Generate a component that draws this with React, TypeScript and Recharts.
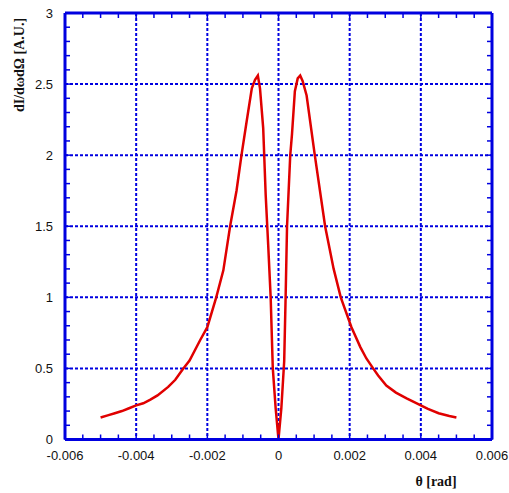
import { LineChart, Line, XAxis, YAxis, CartesianGrid } from 'recharts';

// angle θ [rad] and intensity dI/dωdΩ
const theta = [
  -0.005, -0.0048, -0.0046, -0.0044, -0.0042, -0.004, -0.0038, -0.0036, -0.0034, -0.0031,
  -0.0029, -0.0027, -0.0025, -0.0022, -0.002, -0.00175, -0.00155, -0.00136, -0.00118,
  -0.00104, -0.0009, -0.00075, -0.00066, -0.00058, -0.00052, -0.00043, -0.00036, -0.00029,
  -0.00022, -0.00016, -0.00008, 0,
  0.00008, 0.00016, 0.0002, 0.00024, 0.00033, 0.00038, 0.00046, 0.00054, 0.00061, 0.00068,
  0.00079, 0.00102, 0.00131, 0.00155, 0.00175, 0.00205, 0.0023, 0.00247, 0.00266, 0.0028,
  0.00303, 0.0033, 0.0036, 0.0038, 0.004, 0.0042, 0.0045, 0.0048, 0.005,
];
const intensity = [
  0.155, 0.17, 0.185, 0.2, 0.22, 0.24, 0.255, 0.28, 0.31, 0.37,
  0.42, 0.49, 0.555, 0.7, 0.79, 1.0, 1.19, 1.5, 1.75,
  2.0, 2.23, 2.47, 2.53, 2.56, 2.47, 2.19, 1.72, 1.37,
  1.0, 0.5, 0.22, 0,
  0.22, 0.55, 1.0, 1.5, 2.0, 2.15, 2.45, 2.54, 2.56, 2.52,
  2.42, 2.0, 1.5, 1.2, 1.0, 0.79, 0.65, 0.57, 0.5, 0.45,
  0.38, 0.33, 0.29, 0.265, 0.24, 0.215, 0.185, 0.165, 0.155,
];

const xTicks = [-0.006, -0.004, -0.002, 0, 0.002, 0.004, 0.006];
const yTicks = [0, 0.5, 1, 1.5, 2, 2.5, 3];
const xMinor = Array.from({ length: 25 }, (_, i) => Math.round((-0.006 + i * 0.0005) * 1e5) / 1e5);
const yMinor = Array.from({ length: 31 }, (_, i) => Math.round(i * 0.1 * 10) / 10);

const BLUE = '#0000e0';
const RED = '#e00000';
const tickFont = { fontFamily: '"Liberation Sans", Arial, sans-serif', fontSize: 13, fill: '#111' };
const labelFont = { fontFamily: '"Liberation Serif", "Times New Roman", serif', fontWeight: 'bold' as const, fontSize: 14, fill: '#111' };

const data = theta.map((t, i) => ({ theta: t, value: intensity[i] }));

export default function App() {
  return (
    <div style={{ position: 'absolute', left: 0, top: 0, width: 509, height: 493 }}>
      <LineChart width={509} height={493} data={data} margin={{ top: 13, right: 17, bottom: 0, left: 8 }}>
        <CartesianGrid stroke={BLUE} strokeWidth={2} strokeDasharray="3 2" />
        <XAxis
          dataKey="theta"
          type="number"
          domain={[-0.006, 0.006]}
          ticks={xTicks}
          interval={0}
          allowDataOverflow
          height={53.5}
          tickLine={false}
          tickMargin={5}
          tick={tickFont}
          axisLine={{ stroke: BLUE, strokeWidth: 3 }}
          label={{
            content: () => (
              <text x={436} y={486} textAnchor="middle" {...labelFont}>θ [rad]</text>
            ),
          }}
        />
        <YAxis
          type="number"
          domain={[0, 3]}
          ticks={yTicks}
          interval={0}
          allowDataOverflow
          width={57}
          tickLine={false}
          tickMargin={6}
          tick={tickFont}
          axisLine={{ stroke: BLUE, strokeWidth: 3 }}
          label={{
            content: () => (
              <text x={24} y={65} textAnchor="middle" transform="rotate(-90 24 65)" {...labelFont}>
                dI/dωdΩ [A.U.]
              </text>
            ),
          }}
        />
        {/* minor ticks on all four sides, pointing inward */}
        <XAxis xAxisId="mb" dataKey="theta" type="number" domain={[-0.006, 0.006]} allowDataOverflow
          ticks={xMinor} interval={0} height={1} mirror axisLine={false} tickSize={5}
          tickLine={{ stroke: BLUE, strokeWidth: 1.5 }} tickFormatter={() => ''} />
        <XAxis xAxisId="mt" orientation="top" dataKey="theta" type="number" domain={[-0.006, 0.006]} allowDataOverflow
          ticks={xMinor} interval={0} height={1} mirror axisLine={{ stroke: BLUE, strokeWidth: 3 }} tickSize={5}
          tickLine={{ stroke: BLUE, strokeWidth: 1.5 }} tickFormatter={() => ''} />
        <YAxis yAxisId="ml" type="number" domain={[0, 3]} allowDataOverflow
          ticks={yMinor} interval={0} width={1} mirror axisLine={false} tickSize={5}
          tickLine={{ stroke: BLUE, strokeWidth: 1.5 }} tickFormatter={() => ''} />
        <YAxis yAxisId="mr" orientation="right" type="number" domain={[0, 3]} allowDataOverflow
          ticks={yMinor} interval={0} width={1} mirror axisLine={{ stroke: BLUE, strokeWidth: 3 }} tickSize={5}
          tickLine={{ stroke: BLUE, strokeWidth: 1.5 }} tickFormatter={() => ''} />
        <Line type="linear" dataKey="value" stroke={RED} strokeWidth={2.5} dot={false} isAnimationActive={false} />
      </LineChart>
    </div>
  );
}
